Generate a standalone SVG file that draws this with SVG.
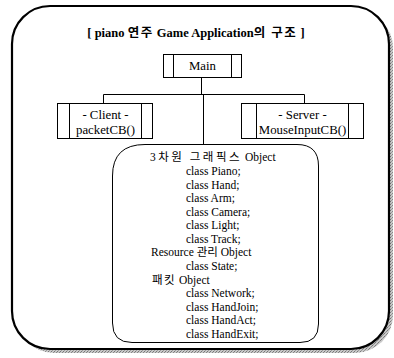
<svg xmlns="http://www.w3.org/2000/svg" width="394" height="358" viewBox="0 0 394 358">
  <style>
    .frame { fill: #fff; stroke: #000; stroke-width: 2.2; }
    .box { fill: #fff; stroke: #000; stroke-width: 1; }
    .bar { stroke: #000; stroke-width: 1; }
    .wire { fill: none; stroke: #000; stroke-width: 1; }
    .t { font-family: "Liberation Serif", "Noto Sans CJK KR", serif; font-size: 11.5px; fill: #000; }
    .lbl { font-size: 12.8px; }
    .title { font-family: "Liberation Serif", "Noto Sans CJK KR", serif; font-size: 12.5px; font-weight: bold; fill: #000; }
    .ko { letter-spacing: 1.5px; }
    .mid { text-anchor: middle; }
  </style>
  <defs>
    <pattern id="grain" width="3" height="3" patternUnits="userSpaceOnUse">
      <rect width="3" height="3" fill="#c8c8c8"/>
      <rect width="1" height="1" fill="#777"/>
      <rect x="2" y="1" width="1" height="1" fill="#888"/>
      <rect x="1" y="2" width="1" height="1" fill="#999"/>
    </pattern>
  </defs>

  <rect width="394" height="358" fill="#fff"/>

  <!-- outer frame with drop shadow -->
  <g id="frame">
    <rect x="16" y="10" width="377" height="343" rx="38" ry="38" fill="url(#grain)"/>
    <rect class="frame" x="12" y="6" width="377" height="343" rx="38" ry="38"/>
    <text class="title mid" x="196" y="37">[ piano <tspan class="ko">연주</tspan> Game Application<tspan class="ko">의 구조</tspan> ]</text>
  </g>

  <!-- connectors -->
  <g id="connectors">
    <path class="wire" d="M201.5 77 V94.5 M103.5 94.5 H304.5 M103.5 94.5 V103 M304.5 94.5 V103 M203.5 94.5 V144"/>
  </g>

  <g id="main">
    <rect class="box" x="163.5" y="54.5" width="78" height="23"/>
    <line class="bar" x1="173.5" y1="54.5" x2="173.5" y2="77.5"/>
    <line class="bar" x1="231.5" y1="54.5" x2="231.5" y2="77.5"/>
    <text class="t lbl mid" x="202.5" y="70">Main</text>
  </g>

  <g id="client">
    <rect class="box" x="57.5" y="103.5" width="95" height="35"/>
    <line class="bar" x1="69.5" y1="103.5" x2="69.5" y2="138.5"/>
    <line class="bar" x1="141.5" y1="103.5" x2="141.5" y2="138.5"/>
    <text class="t lbl mid" x="105.5" y="119">- Client -</text>
    <text class="t lbl mid" x="105.5" y="134">packetCB()</text>
  </g>

  <g id="server">
    <rect class="box" x="241.5" y="103.5" width="122" height="35"/>
    <line class="bar" x1="256.5" y1="103.5" x2="256.5" y2="138.5"/>
    <line class="bar" x1="348.5" y1="103.5" x2="348.5" y2="138.5"/>
    <text class="t lbl mid" x="302.5" y="119">- Server -</text>
    <text class="t lbl mid" x="302.5" y="134">MouseInputCB()</text>
  </g>

  <g id="objects">
    <path class="box" d="M112.5 176 Q112.5 144.5 145 144.5 H297 Q318.5 144.5 318.5 166 V324 Q318.5 342.5 300 342.5 H132 Q112.5 342.5 112.5 323 Z"/>
    <text class="t" x="150" y="161"><tspan class="ko" style="letter-spacing:2.5px">3차원 그래픽스</tspan> Object</text>
    <text class="t" x="186" y="175">class Piano;</text>
    <text class="t" x="186" y="188.5">class Hand;</text>
    <text class="t" x="186" y="202">class Arm;</text>
    <text class="t" x="186" y="215.5">class Camera;</text>
    <text class="t" x="186" y="229">class Light;</text>
    <text class="t" x="186" y="242.5">class Track;</text>
    <text class="t" x="151" y="256">Resource 관리 Object</text>
    <text class="t" x="186" y="270">class State;</text>
    <text class="t" x="152" y="283.5"><tspan class="ko">패킷</tspan> Object</text>
    <text class="t" x="186" y="297">class Network;</text>
    <text class="t" x="186" y="310.5">class HandJoin;</text>
    <text class="t" x="186" y="324">class HandAct;</text>
    <text class="t" x="186" y="337.5">class HandExit;</text>
  </g>
</svg>
